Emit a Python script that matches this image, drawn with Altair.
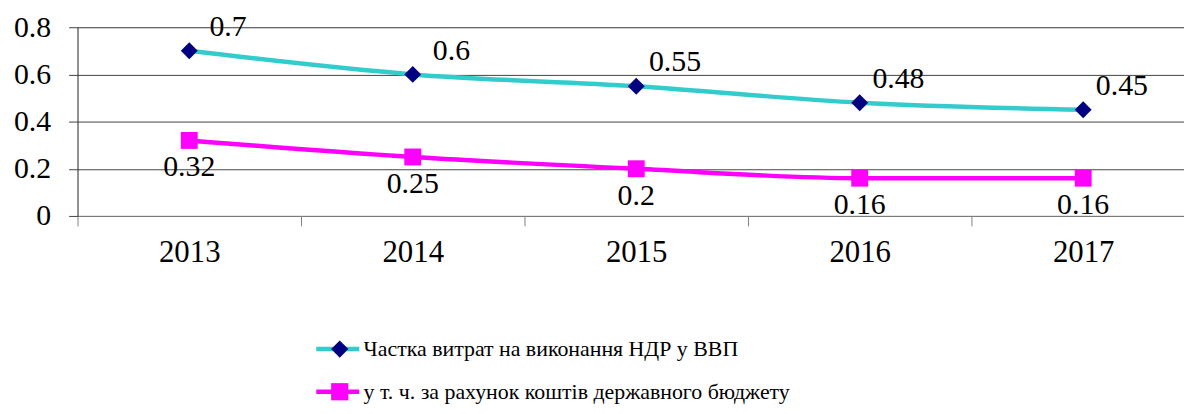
import altair as alt
import pandas as pd

years = [2013, 2014, 2015, 2016, 2017]
share_total = [0.70, 0.60, 0.55, 0.48, 0.45]
share_budget = [0.32, 0.25, 0.20, 0.16, 0.16]
series_names = [
    "Частка витрат на виконання НДР у ВВП",
    "у т. ч. за рахунок коштів державного бюджету",
]
line_colors = ["#33CCCC", "#FF00FF"]
marker_colors = ["#000080", "#FF00FF"]
marker_shapes = ["diamond", "square"]
y_ticks = [0, 0.2, 0.4, 0.6, 0.8]

# marker legend uses its own keys so it is not merged with the line legend
marker_keys = [n + " " for n in series_names]

rows = []
for name, mkey, vals in zip(series_names, marker_keys, [share_total, share_budget]):
    for yr, v in zip(years, vals):
        rows.append({"year": yr, "value": v, "series": name, "mseries": mkey, "label": f"{v:g}"})
df = pd.DataFrame(rows)

FONT = "Liberation Serif, Times New Roman, serif"
W = 1114
H = 190
STEP = 225.0
x_domain = [years[0] - 0.5, years[0] - 0.5 + W / STEP]
x_vals = []
for yr in years:
    x_vals += [yr - 0.5, yr]

x_enc = alt.X(
    "year:Q",
    scale=alt.Scale(domain=x_domain, nice=False, zero=False),
    axis=alt.Axis(
        values=x_vals,
        labelExpr="datum.value % 1 === 0 ? format(datum.value, 'd') : ''",
        tickSize=10,
        tickOpacity={"condition": {"test": "datum.value % 1 === 0", "value": 0}, "value": 1},
        tickColor="#808080",
        domainColor="#808080",
        grid=False,
        title=None,
        labelFont=FONT,
        labelFontSize=31,
        labelColor="black",
        labelPadding=12,
        labelFlush=False,
        labelOverlap=False,
    ),
)
y_enc = alt.Y(
    "value:Q",
    scale=alt.Scale(domain=[0, 0.8], nice=False),
    axis=alt.Axis(
        values=y_ticks,
        format="~g",
        tickSize=9,
        tickColor="#444",
        gridColor="#444",
        domainColor="#333",
        grid=True,
        title=None,
        labelFont=FONT,
        labelFontSize=30,
        labelColor="black",
        labelPadding=18,
    ),
)

LEG_Y = 313
leg_common = dict(
    orient="none",
    title=None,
    labelFont=FONT,
    labelFontSize=22,
    labelColor="black",
    labelLimit=0,
    symbolSize=300,
    padding=0,
)

lines = alt.Chart(df).mark_line(strokeWidth=4.5, interpolate="monotone").encode(
    x=x_enc,
    y=y_enc,
    stroke=alt.Stroke(
        "series:N",
        scale=alt.Scale(domain=series_names, range=line_colors),
        legend=alt.Legend(
            legendX=251,
            legendY=LEG_Y,
            rowPadding=21,
            symbolType="M-2.5,0H2.5",
            symbolStrokeWidth=4.5,
            labelOffset=15,
            **leg_common,
        ),
    ),
)

point_legend = alt.Legend(
    legendX=253,
    legendY=LEG_Y,
    rowPadding=21,
    symbolStrokeWidth=0,
    labelOffset=17,
    labelExpr="''",
    **leg_common,
)
points = alt.Chart(df).mark_point(filled=True, size=289, opacity=1).encode(
    x=x_enc,
    y=y_enc,
    fill=alt.Fill(
        "mseries:N",
        scale=alt.Scale(domain=marker_keys, range=marker_colors),
        legend=point_legend,
    ),
    shape=alt.Shape(
        "mseries:N",
        scale=alt.Scale(domain=marker_keys, range=marker_shapes),
        legend=point_legend,
    ),
)

labels_top = (
    alt.Chart(df)
    .transform_filter(alt.datum.series == series_names[0])
    .mark_text(font=FONT, fontSize=30, color="black", dx=39, dy=-24, align="center", baseline="middle")
    .encode(x=x_enc, y=y_enc, text="label:N")
)
labels_bottom = (
    alt.Chart(df)
    .transform_filter(alt.datum.series == series_names[1])
    .mark_text(font=FONT, fontSize=30, color="black", dx=0, dy=27, align="center", baseline="middle")
    .encode(x=x_enc, y=y_enc, text="label:N")
)

chart = (
    alt.layer(lines, points, labels_top, labels_bottom)
    .properties(
        width=W,
        height=H,
        autosize=alt.AutoSizeParams(type="none"),
        padding={"left": 70, "top": 18, "right": 0, "bottom": 190},
    )
    .configure_view(stroke=None)
    .configure(background="white", font=FONT)
)

chart.save("out.html", embed_options={"renderer": "svg", "actions": False})
